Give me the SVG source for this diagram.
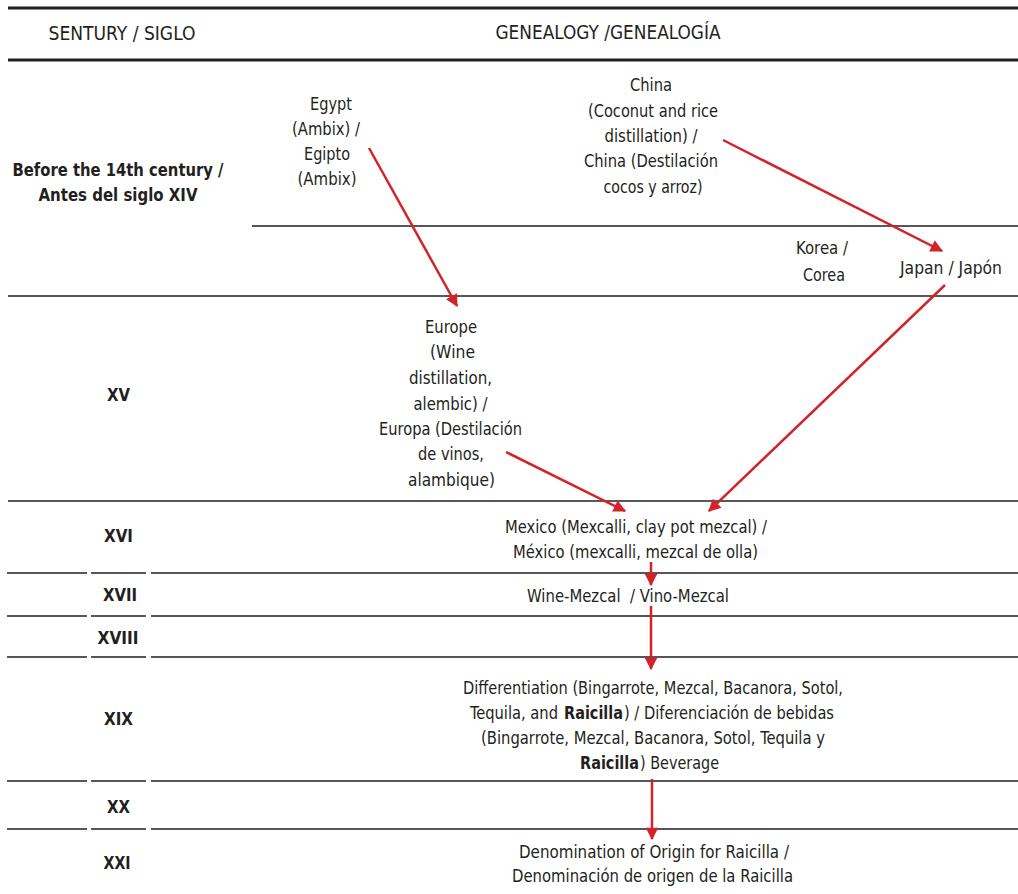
<svg xmlns="http://www.w3.org/2000/svg" width="1018" height="894" viewBox="0 0 1018 894">
<defs>
<marker id="ah" viewBox="0 0 10 10" refX="9" refY="5" markerWidth="6" markerHeight="5" markerUnits="strokeWidth" orient="auto">
<path d="M0,0 L10,5 L0,10 z" fill="#d2232a"/>
</marker>
<style>
.t{font-family:"DejaVu Sans Condensed","Liberation Sans Narrow","Liberation Sans",sans-serif;font-size:18px;fill:#231f20;text-anchor:middle}
.s{text-anchor:start}
.b{font-weight:bold}
.hd{font-size:19px}
.thick{stroke:#231f20;stroke-width:3;fill:none}
.thin{stroke:#231f20;stroke-width:1.6;fill:none}
.arr{stroke:#d2232a;stroke-width:2.5;fill:none;marker-end:url(#ah)}
</style>
</defs>
<rect width="1018" height="894" fill="#fff"/>
<g id="grid">
<line class="thick" x1="8" y1="8" x2="1018" y2="8"/>
<line class="thick" x1="8" y1="60" x2="1018" y2="60"/>
<line class="thin" x1="252" y1="226" x2="1018" y2="226"/>
<line class="thin" x1="8" y1="296" x2="1018" y2="296"/>
<line class="thin" x1="8" y1="501" x2="1018" y2="501"/>
<g id="seglines">
<path class="thin" d="M7,573H87M91,573H146M151,573H1018"/>
<path class="thin" d="M7,616H87M91,616H146M151,616H1018"/>
<path class="thin" d="M7,657H87M91,657H146M151,657H1018"/>
<path class="thin" d="M7,781H87M91,781H146M151,781H1018"/>
<path class="thin" d="M7,829H87M91,829H146M151,829H1018"/>
</g>
</g>
<g id="header">
<text class="t hd" x="122" y="40" textLength="147" lengthAdjust="spacingAndGlyphs">SENTURY / SIGLO</text>
<text class="t hd" x="608" y="39" textLength="225" lengthAdjust="spacingAndGlyphs">GENEALOGY /GENEALOGÍA</text>
</g>
<g id="centuries">
<text class="t b" x="118" y="176" textLength="211" lengthAdjust="spacingAndGlyphs">Before the 14th century /</text>
<text class="t b" x="118" y="201" textLength="159" lengthAdjust="spacingAndGlyphs">Antes del siglo XIV</text>
<text class="t b" x="118.5" y="401" textLength="23" lengthAdjust="spacingAndGlyphs">XV</text>
<text class="t b" x="118.5" y="542" textLength="29" lengthAdjust="spacingAndGlyphs">XVI</text>
<text class="t b" x="120" y="601" textLength="34" lengthAdjust="spacingAndGlyphs">XVII</text>
<text class="t b" x="118" y="644" textLength="41" lengthAdjust="spacingAndGlyphs">XVIII</text>
<text class="t b" x="118.5" y="725" textLength="29" lengthAdjust="spacingAndGlyphs">XIX</text>
<text class="t b" x="118.5" y="813" textLength="23" lengthAdjust="spacingAndGlyphs">XX</text>
<text class="t b" x="117" y="869" textLength="27" lengthAdjust="spacingAndGlyphs">XXI</text>
</g>
<g id="egypt">
<text class="t" x="331" y="110" textLength="42" lengthAdjust="spacingAndGlyphs">Egypt</text>
<text class="t" x="326" y="135" textLength="68" lengthAdjust="spacingAndGlyphs">(Ambix) /</text>
<text class="t" x="327" y="160" textLength="46" lengthAdjust="spacingAndGlyphs">Egipto</text>
<text class="t" x="327" y="185" textLength="59" lengthAdjust="spacingAndGlyphs">(Ambix)</text>
</g>
<g id="china">
<text class="t" x="651" y="91" textLength="42" lengthAdjust="spacingAndGlyphs">China</text>
<text class="t" x="653" y="117" textLength="130" lengthAdjust="spacingAndGlyphs">(Coconut and rice</text>
<text class="t" x="651" y="142" textLength="93" lengthAdjust="spacingAndGlyphs">distillation) /</text>
<text class="t" x="651" y="167" textLength="134" lengthAdjust="spacingAndGlyphs">China (Destilación</text>
<text class="t" x="653" y="193" textLength="99" lengthAdjust="spacingAndGlyphs">cocos y arroz)</text>
</g>
<g id="korea">
<text class="t" x="822" y="254" textLength="52" lengthAdjust="spacingAndGlyphs">Korea /</text>
<text class="t" x="824" y="281" textLength="42" lengthAdjust="spacingAndGlyphs">Corea</text>
</g>
<g id="japan">
<text class="t" x="951" y="274" textLength="102" lengthAdjust="spacingAndGlyphs">Japan / Japón</text>
</g>
<g id="europe">
<text class="t" x="451" y="333" textLength="52" lengthAdjust="spacingAndGlyphs">Europe</text>
<text class="t" x="452.5" y="358" textLength="45" lengthAdjust="spacingAndGlyphs">(Wine</text>
<text class="t" x="450.5" y="384" textLength="83" lengthAdjust="spacingAndGlyphs">distillation,</text>
<text class="t" x="450.5" y="410" textLength="74" lengthAdjust="spacingAndGlyphs">alembic) /</text>
<text class="t" x="450.5" y="435" textLength="143" lengthAdjust="spacingAndGlyphs">Europa (Destilación</text>
<text class="t" x="451" y="460" textLength="66" lengthAdjust="spacingAndGlyphs">de vinos,</text>
<text class="t" x="451.5" y="486" textLength="87" lengthAdjust="spacingAndGlyphs">alambique)</text>
</g>
<g id="mexico">
<text class="t" x="636" y="533" textLength="262" lengthAdjust="spacingAndGlyphs">Mexico (Mexcalli, clay pot mezcal) /</text>
<text class="t" x="635.5" y="558" textLength="245" lengthAdjust="spacingAndGlyphs">México (mexcalli, mezcal de olla)</text>
</g>
<g id="wine">
<text class="t" x="628" y="602" xml:space="preserve" textLength="202" lengthAdjust="spacingAndGlyphs">Wine-Mezcal  / Vino-Mezcal</text>
</g>
<g id="differentiation">
<text class="t" x="653" y="694" textLength="380" lengthAdjust="spacingAndGlyphs">Differentiation (Bingarrote, Mezcal, Bacanora, Sotol,</text>
<text class="t s" x="470" y="719" textLength="88" lengthAdjust="spacingAndGlyphs">Tequila, and</text>
<text class="t s b" x="564" y="719" textLength="59" lengthAdjust="spacingAndGlyphs">Raicilla</text>
<text class="t s" x="624" y="719" textLength="210" lengthAdjust="spacingAndGlyphs">) / Diferenciación de bebidas</text>
<text class="t" x="653" y="744" textLength="344" lengthAdjust="spacingAndGlyphs">(Bingarrote, Mezcal, Bacanora, Sotol, Tequila y</text>
<text class="t s b" x="580" y="769" textLength="59" lengthAdjust="spacingAndGlyphs">Raicilla</text>
<text class="t s" x="640" y="769" textLength="79" lengthAdjust="spacingAndGlyphs">) Beverage</text>
</g>
<g id="denomination">
<text class="t" x="654" y="858" textLength="270" lengthAdjust="spacingAndGlyphs">Denomination of Origin for Raicilla /</text>
<text class="t" x="652.5" y="882" textLength="281" lengthAdjust="spacingAndGlyphs">Denominación de origen de la Raicilla</text>
</g>
<g id="connectors">
<line class="arr" x1="369" y1="148" x2="457" y2="306"/>
<line class="arr" x1="723" y1="140" x2="942" y2="251"/>
<line class="arr" x1="945" y1="285" x2="709" y2="511"/>
<line class="arr" x1="506" y1="452" x2="625" y2="511"/>
<line class="arr" x1="651" y1="562" x2="651" y2="585"/>
<line class="arr" x1="651" y1="606" x2="651" y2="669"/>
<line class="arr" x1="652" y1="779" x2="652" y2="839"/>
</g>
</svg>
